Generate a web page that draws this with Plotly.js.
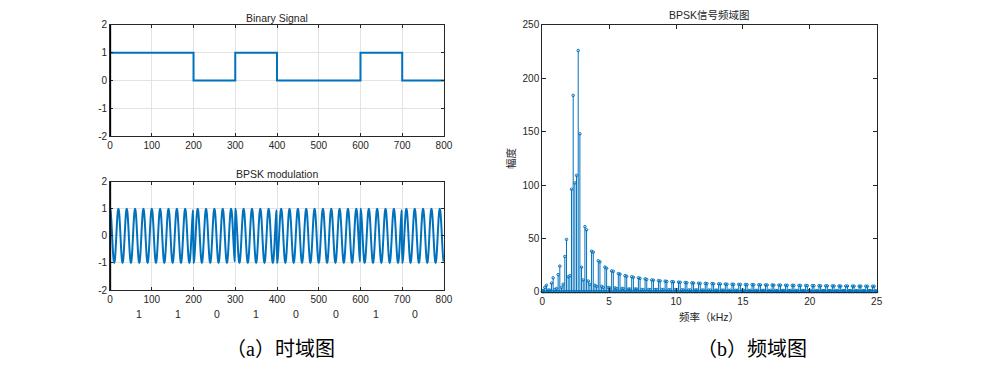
<!DOCTYPE html>
<html>
<head>
<meta charset="utf-8">
<script src="https://cdn.plot.ly/plotly-3.0.1.min.js"></script>
<style>
html,body{margin:0;padding:0;background:#fff;}
#chart{width:987px;height:378px;}
</style>
</head>
<body>
<div id="chart"></div>
<script>
// ---- Data ----
const bits = [1, 1, 0, 1, 0, 0, 1, 0];
const bitEdges = [0, 100, 200, 300, 400, 500, 600, 700, 800];
const bitLabelPos = [70, 163, 256, 350, 446, 541, 636, 731];
// one carrier cycle (20 samples)
const carrierCycle = [1, 0.95, 0.81, 0.59, 0.31, 0, -0.31, -0.59, -0.81, -0.95,
                      -1, -0.95, -0.81, -0.59, -0.31, 0, 0.31, 0.59, 0.81, 0.95];
const cyclesPerBit = 5;

// spectrum: FFT bins 0..400, fs = 50 kHz, N = 800 (bin step 0.0625 kHz)
const fs = 50, N = 800;
const magnitude = [
0,1,0,4,0,6,0,1.5,
0,1.5,0,8,0,13,0,2,
0,3,0,16,0,24,0,4,
0,7,0,33,0,49,0,14,
0,15,0,96,0,184,0,102,
0,109,0,226,0,148,0,23,
0,11,0,61,0,58,0,10,
0,7,0,38,0,37,0,6,
0,5,0,29,0,28,0,5,
0,4,0,23,0,22,0,4,
0,3.5,0,19.5,0,19,0,3.5,
0,3,0,17,0,16.5,0,3,
0,3,0,15,0,14.5,0,2.5,
0,2.5,0,14,0,13.5,0,2.5,
0,2.5,0,13,0,12.5,0,2,
0,2,0,12,0,11.5,0,2,
0,2,0,11,0,10.8,0,2,
0,2,0,10.4,0,10.1,0,2,
0,2,0,9.9,0,9.6,0,1.8,
0,1.8,0,9.4,0,9.2,0,1.8,
0,1.8,0,9,0,8.8,0,1.7,
0,1.7,0,8.6,0,8.4,0,1.6,
0,1.6,0,8.3,0,8.1,0,1.6,
0,1.6,0,8,0,7.8,0,1.5,
0,1.5,0,7.8,0,7.6,0,1.5,
0,1.5,0,7.6,0,7.4,0,1.4,
0,1.4,0,7.4,0,7.2,0,1.4,
0,1.4,0,7.2,0,7,0,1.3,
0,1.3,0,7,0,6.9,0,1.3,
0,1.3,0,6.9,0,6.8,0,1.3,
0,1.3,0,6.7,0,6.6,0,1.2,
0,1.2,0,6.6,0,6.5,0,1.2,
0,1.2,0,6.5,0,6.4,0,1.2,
0,1.2,0,6.4,0,6.3,0,1.2,
0,1.2,0,6.3,0,6.2,0,1.1,
0,1.1,0,6.2,0,6.1,0,1.1,
0,1.1,0,6.1,0,6,0,1.1,
0,1.1,0,6,0,5.9,0,1.1,
0,1.1,0,5.9,0,5.8,0,1.1,
0,1.1,0,5.8,0,5.7,0,1,
0,1,0,5.7,0,5.6,0,1,
0,1,0,5.6,0,5.5,0,1,
0,1,0,5.5,0,5.5,0,1,
0,1,0,5.5,0,5.4,0,1,
0,1,0,5.4,0,5.3,0,1,
0,1,0,5.3,0,5.3,0,1,
0,1,0,5.3,0,5.2,0,1,
0,1,0,5.2,0,5.2,0,1,
0,1,0,5.2,0,5.1,0,1,
0,1,0,5.1,0,5.1,0,1,
0
];

const xTicksLeft = [0, 100, 200, 300, 400, 500, 600, 700, 800];
const yTicksLeft = [-2, -1, 0, 1, 2];
const yTickTextLeft = ['-2', '-1', '0', '1', '2'];

// ---- Build traces ----
const stairY = bits.concat([bits[bits.length - 1]]);
const bpskX = [], bpskY = [];
let n = 0;
bits.forEach(b => {
  const s = b ? 1 : -1;
  for (let c = 0; c < cyclesPerBit; c++) {
    carrierCycle.forEach(v => { bpskX.push(n); bpskY.push(s * v); n++; });
  }
});
const freq = magnitude.map((_, k) => k * fs / N);
const zeros = magnitude.map(() => 0);

const blue = '#0072BD';
const txt = '#262626';
const font = 'Liberation Sans, Arial, sans-serif';
const cjk = 'Liberation Sans, Noto Sans CJK SC, sans-serif';

const traces = [
  {x: bitEdges, y: stairY, xaxis: 'x', yaxis: 'y', type: 'scatter', mode: 'lines',
   line: {color: blue, width: 2, shape: 'hv'}, hoverinfo: 'skip'},
  {x: bpskX, y: bpskY, xaxis: 'x2', yaxis: 'y2', type: 'scatter', mode: 'lines',
   line: {color: blue, width: 2, shape: 'spline', smoothing: 0.6}, hoverinfo: 'skip'},
  {x: freq, y: magnitude, xaxis: 'x3', yaxis: 'y3', type: 'scatter', mode: 'markers',
   cliponaxis: false,
   marker: {symbol: 'circle-open', size: 2.5, color: blue, line: {width: 1, color: blue}},
   error_y: {type: 'data', symmetric: false, array: zeros, arrayminus: magnitude,
             width: 0, thickness: 1, color: blue},
   hoverinfo: 'skip'}
];

const leftX = (anchor) => ({
  domain: [0.1115, 0.4498], range: [0, 800], anchor: anchor,
  tickvals: xTicksLeft, showgrid: true, gridcolor: '#e3e3e3', gridwidth: 1,
  ticks: 'inside', ticklen: 3, tickcolor: txt, showline: true, mirror: 'ticks',
  linecolor: txt, linewidth: 1, zeroline: false,
  tickfont: {size: 10, color: txt, family: font}
});
const leftY = (anchor, dom) => ({
  domain: dom, range: [-2, 2], anchor: anchor,
  tickvals: yTicksLeft, ticktext: yTickTextLeft, showgrid: true, gridcolor: '#e3e3e3',
  ticks: 'inside', ticklen: 3, tickcolor: txt, showline: true, mirror: 'ticks',
  linecolor: txt, linewidth: 1, zeroline: false,
  tickfont: {size: 10, color: txt, family: font}
});

const ann = (text, x, y, opts = {}) => Object.assign({
  text: text, x: x, y: y, xref: 'paper', yref: 'paper', showarrow: false,
  xanchor: 'center', yanchor: 'middle', font: {size: 10.5, color: txt, family: cjk}
}, opts);

const annotations = [
  ann('Binary Signal', 0.2806, 0.9524),
  ann('BPSK modulation', 0.2806, 0.5397),
  ann('BPSK信号频域图', 0.7188, 0.9603),
  ann('频率（kHz）', 0.7188, 0.1614),
  ann('幅度', 0.5177, 0.582, {textangle: -90}),
  ann('（a）时域图', 0.2847, 0.0767, {font: {size: 20, color: '#000', family: 'Liberation Serif, Noto Sans CJK SC, serif'}}),
  ann('（b）频域图', 0.7619, 0.0767, {font: {size: 20, color: '#000', family: 'Liberation Serif, Noto Sans CJK SC, serif'}})
];
bits.forEach((b, i) => {
  annotations.push({text: String(b), x: bitLabelPos[i], xref: 'x2', y: 0.1693, yref: 'paper',
    showarrow: false, xanchor: 'center', yanchor: 'middle',
    font: {size: 10.5, color: txt, family: font}});
});

const spine = (xr, yr) => ({type: 'line', xref: xr, yref: yr, x0: 0, x1: 0, y0: -2, y1: 2,
  line: {color: '#000', width: 2.2}});

const layout = {
  width: 987, height: 378,
  margin: {l: 0, r: 0, t: 0, b: 0},
  paper_bgcolor: '#fff', plot_bgcolor: '#fff',
  showlegend: false,
  xaxis: leftX('y'),
  yaxis: leftY('x', [0.6402, 0.9339]),
  xaxis2: leftX('y2'),
  yaxis2: leftY('x2', [0.2328, 0.5193]),
  xaxis3: {domain: [0.5494, 0.8882], range: [0, 25], anchor: 'y3', dtick: 5,
    showgrid: false, ticks: 'inside', ticklen: 4, tickcolor: txt, showline: true,
    mirror: 'allticks', linecolor: txt, linewidth: 1, zeroline: false,
    tickfont: {size: 10, color: txt, family: font}},
  yaxis3: {domain: [0.2283, 0.9339], range: [0, 250], anchor: 'x3', dtick: 50,
    showgrid: false, ticks: 'inside', ticklen: 4, tickcolor: txt, showline: true,
    mirror: 'allticks', linecolor: txt, linewidth: 1, zeroline: false,
    tickfont: {size: 10, color: txt, family: font}},
  shapes: [spine('x', 'y'), spine('x2', 'y2')],
  annotations: annotations
};

Plotly.newPlot('chart', traces, layout, {staticPlot: true, displayModeBar: false});
</script>
</body>
</html>
